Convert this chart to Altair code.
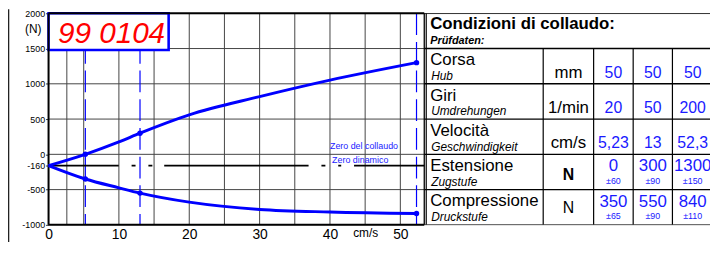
import altair as alt
import pandas as pd

# ---------------- data ----------------
title_code = "99 0104"

velocity = [5.23, 13, 52.3]             # cm/s
velocity_text = ["5,23", "13", "52,3"]
corsa_mm = [50, 50, 50]
giri_min = [20, 50, 200]
estensione = [0, 300, 1300]             # N
estensione_tol = [60, 90, 150]
compressione = [350, 550, 840]          # N
compressione_tol = [65, 90, 110]
zero_dinamico = -160

# curve read-offs (cm/s -> N)
curve_v = [0, 5.23, 10, 13, 20, 30, 40, 52.3]
curve_ext = [-160, 0, 175, 300, 560, 818, 1052, 1300]
curve_comp = [-160, -350, -475, -550, -678, -781, -818, -840]

row_it = ["Corsa", "Giri", "Velocità", "Estensione", "Compressione"]
row_de = ["Hub", "Umdrehungen", "Geschwindigkeit", "Zugstufe", "Druckstufe"]
row_unit = ["mm", "1/min", "cm/s", "N", "N"]

y_ticks = [2000, 1500, 1000, 500, 0, -160, -500, -1000]
x_ticks = [0, 10, 20, 30, 40, 45, 50]
grid_x = [2.6, 5, 10, 15, 20, 25, 30, 35, 40, 45, 50]
grid_y = [1500, 1000, 500, 0, -500]

# ---------------- layout / style ----------------
FONT = "Liberation Sans"
BLUE = "#0000ff"
TBLUE = "#1a1aff"
X_MAX = 53.4
PLOT_W = 380
TOTAL_W = 669
H = 214
TABLE_W = 290
COL_LINES = [120.3, 171.3, 211.3, 251]
VAL_X = [191.3, 231.2, 271.5]
UNIT_X = 145.8
LABEL_X = 6

xs = alt.Scale(domain=[0, X_MAX], range=[0, PLOT_W], nice=False, zero=False)
ys = alt.Scale(domain=[-1000, 2000], nice=False, zero=False)
txs = alt.Scale(domain=[0, TABLE_W], range=[PLOT_W, PLOT_W + TABLE_W], nice=False, zero=False)
tys = alt.Scale(domain=[0, 6], range=[0, H], nice=False, zero=False)

xaxis = alt.Axis(orient="bottom", values=x_ticks,
                 labelExpr="datum.value == 45 ? 'cm/s' : '' + datum.value",
                 labelFontSize={"condition": {"test": "datum.value == 45", "value": 12}, "value": 14},
                 labelColor="black", labelFont=FONT, ticks=False, domain=False, grid=False,
                 labelPadding=3, labelFlush=False, labelOverlap=False, title=None)
yaxis = alt.Axis(orient="left", values=y_ticks, labelExpr="'' + datum.value", labelFontSize=9,
                 labelColor="black", labelFont=FONT, tickSize=3, tickColor="#333", domain=False,
                 grid=False, labelPadding=1, labelOverlap=False, title="(N)", titleAngle=0,
                 titleFontSize=12, titleFontWeight="normal", titleFont=FONT, titleX=-16, titleY=15,
                 titleAlign="center", titleBaseline="middle", titleColor="black")


def X(f, axis=None):
    return alt.X(f, type="quantitative", scale=xs, axis=axis)


def Y(f, axis=None):
    return alt.Y(f, type="quantitative", scale=ys, axis=axis)


def TX(f):
    return alt.X(f, type="quantitative", scale=txs, axis=None)


def TY(f):
    return alt.Y(f, type="quantitative", scale=tys, axis=None)


# ---------------- plot part ----------------
gx = alt.Chart(pd.DataFrame({"x": grid_x})).mark_rule(color="#444", strokeWidth=1).encode(
    x=X("x", xaxis))
gy = alt.Chart(pd.DataFrame({"y": grid_y, "x0": 0, "x1": X_MAX})).mark_rule(
    color="#444", strokeWidth=1).encode(y=Y("y", yaxis), x=X("x0"), x2="x1")

vdash = alt.Chart(pd.DataFrame({"x": velocity})).mark_rule(
    color=BLUE, strokeWidth=1.2, strokeDash=[22, 7]).encode(x=X("x"))

frame_l = alt.Chart(pd.DataFrame({"x": [0]})).mark_rule(color="black", strokeWidth=2).encode(x=X("x"))
frame_r = alt.Chart(pd.DataFrame({"x": [X_MAX]})).mark_rule(color="black", strokeWidth=1.3).encode(x=X("x"))
frame_h = alt.Chart(pd.DataFrame({"y": [2000, -1000], "x0": 0, "x1": X_MAX})).mark_rule(
    color="black", strokeWidth=2).encode(y=Y("y"), x=X("x0"), x2="x1")

zero_line = alt.Chart(pd.DataFrame({"y": [zero_dinamico], "x0": 0, "x1": X_MAX})).mark_rule(
    color="black", strokeWidth=1.6,
    strokeDash=[71, 13, 4, 13, 4, 12, 146, 13, 4, 13, 3, 13, 90]).encode(y=Y("y"), x=X("x0"), x2="x1")

box = alt.Chart(pd.DataFrame({"x0": [0], "x1": [17.07], "y0": [2000], "y1": [1480]})).mark_rect(
    fill="white", stroke=BLUE, strokeWidth=2.6).encode(x=X("x0"), x2="x1", y=Y("y0"), y2="y1")
title_txt = alt.Chart(pd.DataFrame({"x": [8.95], "y": [1575], "t": [title_code]})).mark_text(
    font=FONT, fontSize=30, fontStyle="italic", color="#ff0000", align="center",
    baseline="alphabetic").encode(x=X("x"), y=Y("y"), text="t:N")

curves_df = pd.concat([
    pd.DataFrame({"v": curve_v, "f": curve_ext, "s": "ext"}),
    pd.DataFrame({"v": curve_v, "f": curve_comp, "s": "comp"}),
])
curves = alt.Chart(curves_df).mark_line(color=BLUE, strokeWidth=3, interpolate="monotone").encode(
    x=X("v"), y=Y("f"), detail="s:N")

pts_df = pd.DataFrame({"v": velocity + velocity,
                       "f": estensione + [-c for c in compressione]})
pts = alt.Chart(pts_df).mark_circle(color=BLUE, size=30, opacity=1).encode(x=X("v"), y=Y("f"))

zl1 = alt.Chart(pd.DataFrame({"x": [40], "y": [0], "t": ["Zero del collaudo"]})).mark_text(
    font=FONT, fontSize=9, color=TBLUE, align="left", baseline="alphabetic", dy=-5).encode(
    x=X("x"), y=Y("y"), text="t:N")
zl2 = alt.Chart(pd.DataFrame({"x": [40.3], "y": [zero_dinamico], "t": ["Zero dinamico"]})).mark_text(
    font=FONT, fontSize=9, color=TBLUE, align="left", baseline="alphabetic", dy=-2.4).encode(
    x=X("x"), y=Y("y"), text="t:N")

border = alt.Chart(pd.DataFrame({"a": [0]})).mark_rule(color="#222", strokeWidth=1.6).encode(
    x=alt.value(-40.5), y=alt.value(-4), y2=alt.value(234))

plot_layers = [gx, gy, vdash, box, title_txt, frame_l, frame_r, frame_h, zero_line, curves, pts,
               zl1, zl2, border]

# ---------------- table part ----------------
hlines = alt.Chart(pd.DataFrame({"r": [0, 1, 2, 3, 4, 5, 6], "x0": 0, "x1": TABLE_W})).mark_rule(
    color="black", strokeWidth=1.4, clip=True).encode(y=TY("r"), x=TX("x0"), x2="x1")
vlines = alt.Chart(pd.DataFrame({"c": [2] + COL_LINES, "r0": [0] + [1] * len(COL_LINES), "r1": 6})).mark_rule(
    color="black", strokeWidth=1.2, clip=True).encode(x=TX("c"), y=TY("r0"), y2="r1")

head = alt.Chart(pd.DataFrame({"x": [LABEL_X], "r": [0], "t": ["Condizioni di collaudo:"]})).mark_text(
    font=FONT, fontSize=17, fontWeight="bold", align="left", baseline="alphabetic", dy=16.3,
    color="black", clip=True).encode(x=TX("x"), y=TY("r"), text="t:N")
head2 = alt.Chart(pd.DataFrame({"x": [LABEL_X], "r": [0], "t": ["Prüfdaten:"]})).mark_text(
    font=FONT, fontSize=11, fontWeight="bold", fontStyle="italic", align="left", baseline="alphabetic",
    dy=31.3, color="black", clip=True).encode(x=TX("x"), y=TY("r"), text="t:N")

rows_df = pd.DataFrame({"r": [1, 2, 3, 4, 5], "it": row_it, "de": row_de, "u": row_unit,
                        "x": LABEL_X, "xs": LABEL_X + 1, "ux": UNIT_X})
lab = alt.Chart(rows_df).mark_text(font=FONT, fontSize=17, align="left", baseline="alphabetic", dy=17,
                                   color="black", clip=True).encode(x=TX("x"), y=TY("r"), text="it:N")
sub = alt.Chart(rows_df).mark_text(font=FONT, fontSize=12, fontStyle="italic", align="left",
                                   baseline="alphabetic", dy=32, color="black", clip=True).encode(
    x=TX("xs"), y=TY("r"), text="de:N")
unit_a = alt.Chart(rows_df[rows_df.r <= 3]).mark_text(font=FONT, fontSize=17, align="center",
                                                      baseline="alphabetic", dy=29.5, color="black",
                                                      clip=True).encode(
    x=TX("ux"), y=TY("r"), text="u:N")
unit_b = alt.Chart(rows_df[rows_df.r == 4]).mark_text(font=FONT, fontSize=16, fontWeight="bold",
                                                      align="center", baseline="alphabetic", dy=25.7,
                                                      color="black", clip=True).encode(
    x=TX("ux"), y=TY("r"), text="u:N")
unit_c = alt.Chart(rows_df[rows_df.r == 5]).mark_text(font=FONT, fontSize=16, align="center",
                                                      baseline="alphabetic", dy=24, color="black",
                                                      clip=True).encode(
    x=TX("ux"), y=TY("r"), text="u:N")

vals_top = []
for j in range(3):
    vals_top.append({"r": 1, "x": VAL_X[j], "t": str(corsa_mm[j])})
    vals_top.append({"r": 2, "x": VAL_X[j], "t": str(giri_min[j])})
    vals_top.append({"r": 3, "x": VAL_X[j], "t": velocity_text[j]})
vt = alt.Chart(pd.DataFrame(vals_top)).mark_text(font=FONT, fontSize=16, align="center",
                                                 baseline="alphabetic", dy=29.5, color=TBLUE,
                                                 clip=True).encode(
    x=TX("x"), y=TY("r"), text="t:N")

vals_bot = []
for j in range(3):
    vals_bot.append({"r": 4, "x": VAL_X[j], "t": str(estensione[j]), "tol": "±" + str(estensione_tol[j])})
    vals_bot.append({"r": 5, "x": VAL_X[j], "t": str(compressione[j]), "tol": "±" + str(compressione_tol[j])})
vb_df = pd.DataFrame(vals_bot)
vb = alt.Chart(vb_df).mark_text(font=FONT, fontSize=17, align="center", baseline="alphabetic", dy=17.3,
                                color=TBLUE, clip=True).encode(x=TX("x"), y=TY("r"), text="t:N")
vtol = alt.Chart(vb_df).mark_text(font=FONT, fontSize=9, align="center", baseline="alphabetic", dy=29.6,
                                  color=TBLUE, clip=True).encode(x=TX("x"), y=TY("r"), text="tol:N")

table_layers = [hlines, vlines, head, head2, lab, sub, unit_a, unit_b, unit_c, vt, vb, vtol]

chart = alt.layer(*plot_layers, *table_layers).resolve_scale(
    x="independent", y="independent").properties(
    width=TOTAL_W, height=H,
    autosize=alt.AutoSizeParams(type="none"),
    padding={"left": 41, "top": 4, "right": 0, "bottom": 16},
).configure_view(stroke=None).configure(background="white")

chart.save("out.html", embed_options={"renderer": "svg", "actions": False})
